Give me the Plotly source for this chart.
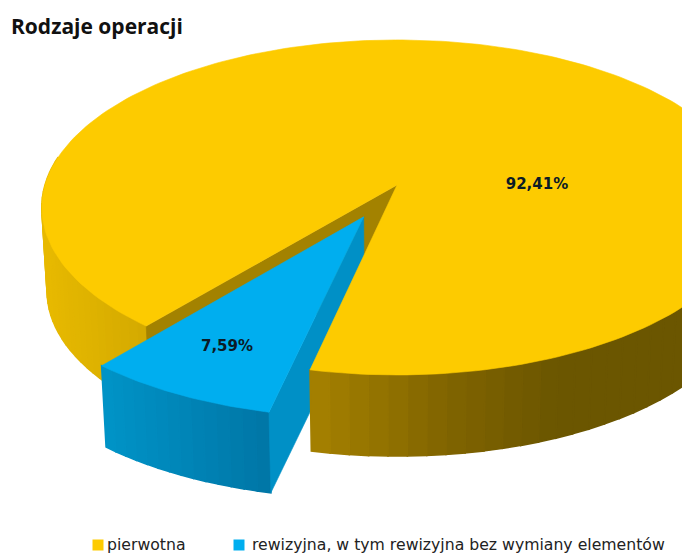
import math
import numpy as np
import plotly.graph_objects as go

categories = ["pierwotna", "rewizyjna, w tym rewizyjna bez wymiany elementów"]
values = [92.41, 7.59]
value_labels = ["92,41%", "7,59%"]
title_text = "Rodzaje operacji"

# projection of the tilted disc onto the page
CX, CY, R, S, K = 397, 185, 352, 164.5, 0.134
DEPTH, SHRINK = 84, 0.985
START = 12.4       # blue slice starts here, degrees clockwise from the front
EXPLODE = 0.21

YELLOW, BLUE = "#FDCB00", "#00AEEF"
YELLOW_CUT, BLUE_CUT = "#A38200", "#0090C6"


def project(u, v, bottom=False):
    w = 1 + K * v
    x = CX + R * u / w
    y = CY - S * v / w
    if bottom:
        x = CX + (x - CX) * SHRINK
        y = CY + DEPTH + (y - CY) * SHRINK
    return x, y


def disc(theta, radius=1.0, off=(0.0, 0.0)):
    t = math.radians(theta)
    return off[0] - radius * math.sin(t), off[1] - radius * math.cos(t)


def mix(stops, x):
    xs = [s[0] for s in stops]
    rgb = [np.interp(x, xs, [s[1][i] for s in stops]) for i in range(3)]
    return "rgb(%d,%d,%d)" % tuple(int(c) for c in rgb)


YELLOW_WALL = [(42, (232, 186, 0)), (145, (212, 170, 0)), (310, (166, 130, 0)),
               (450, (128, 100, 0)), (560, (107, 86, 0)), (682, (107, 86, 0))]
BLUE_WALL = [(101, (0, 148, 200)), (190, (0, 132, 182)), (270, (0, 118, 166))]

fig = go.Figure()


def poly(pts, color, width=0.6):
    xs = [p[0] for p in pts] + [pts[0][0]]
    ys = [p[1] for p in pts] + [pts[0][1]]
    fig.add_trace(go.Scatter(x=xs, y=ys, mode="lines", fill="toself", fillcolor=color,
                             line=dict(color=color, width=width), hoverinfo="skip",
                             showlegend=False))


def wall(t0, t1, stops, off=(0.0, 0.0), n=24):
    # each band overlaps the next so no seams show between them
    ts = np.linspace(t0, t1, n + 1)
    step = ts[1] - ts[0]
    for a in ts[:-1]:
        b = a + step
        ua, va = disc(a, off=off)
        ub, vb = disc(b, off=off)
        p = [project(ua, va), project(ub, vb), project(ub, vb, True), project(ua, va, True)]
        poly(p, mix(stops, (p[0][0] + p[1][0]) / 2), width=1.6)


def top(t0, t1, color, off=(0.0, 0.0), n=240):
    pts = [project(*off)]
    for t in np.linspace(t0, t1, n + 1):
        pts.append(project(*disc(t, off=off)))
    poly(pts, color)


total = sum(values)
blue_sweep = 360 * values[1] / total
blue_end = START + blue_sweep
mid = START + blue_sweep / 2
off = disc(mid, EXPLODE)

# main slice: left rim and the visible cut face
wall(blue_end, 100, YELLOW_WALL, n=30)
u_end, v_end = disc(blue_end)
poly([project(0, 0), project(u_end, v_end), project(u_end, v_end, True), project(0, 0, True)], YELLOW_CUT)

# exploded slice
u_s, v_s = disc(START, off=off)
wall(START, blue_end, BLUE_WALL, off=off, n=14)
poly([project(*off), project(u_s, v_s), project(u_s, v_s, True), project(*off, True)], BLUE_CUT)
top(START, blue_end, BLUE, off=off, n=40)

# main slice: right rim and top
wall(START - 100, START, YELLOW_WALL, n=36)
top(blue_end, START + 360, YELLOW)

# value labels
fig.add_trace(go.Scatter(x=[537, 227], y=[185, 347], mode="text", text=value_labels,
                         textfont=dict(family="DejaVu Sans", size=15, color="#0B1B26", weight="bold"),
                         hoverinfo="skip", showlegend=False))

# legend row
fig.add_trace(go.Scatter(x=[98, 239], y=[545, 545], mode="markers",
                         marker=dict(symbol="square", size=11, color=[YELLOW, BLUE]),
                         hoverinfo="skip", showlegend=False))
fig.add_trace(go.Scatter(x=[107, 252], y=[546, 546], mode="text", text=categories,
                         textposition="middle right",
                         textfont=dict(family="DejaVu Sans", size=15.7, color="#222222"),
                         hoverinfo="skip", showlegend=False))

fig.update_layout(
    width=682, height=553, margin=dict(l=0, r=0, t=0, b=0),
    paper_bgcolor="white", plot_bgcolor="white", showlegend=False,
    title=dict(text=title_text, x=11 / 682, xanchor="left", y=1 - 27 / 553, yanchor="middle",
               font=dict(family="Open Sans", size=21, color="#111111", weight="bold")),
    xaxis=dict(range=[0, 682], visible=False, fixedrange=True),
    yaxis=dict(range=[553, 0], visible=False, fixedrange=True),
)

fig.write_html("out.html", config={"displayModeBar": False},
               post_script="document.body.style.margin='0';")
